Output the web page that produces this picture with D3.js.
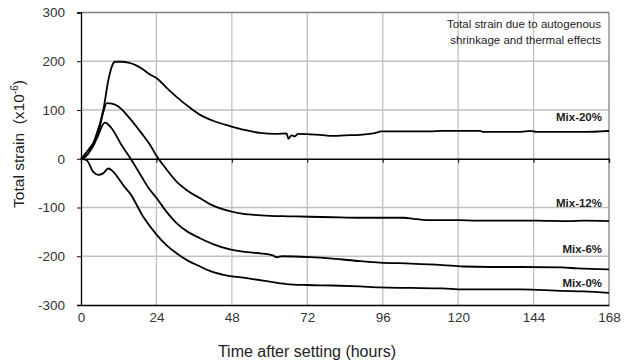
<!DOCTYPE html>
<html><head><meta charset="utf-8">
<script src="https://cdn.jsdelivr.net/npm/d3@7"></script>
<style>body{margin:0;background:#fff}svg{display:block}text{font-family:"Liberation Sans",Arial,sans-serif;white-space:pre}</style>
</head><body><svg id="c" width="625" height="363"></svg>
<script>
const xTicks = [0,24,48,72,96,120,144,168];
const yTicks = [-300,-200,-100,0,100,200,300];
const seriesNames = ["Mix-20%","Mix-12%","Mix-6%","Mix-0%"];
const mix20 = [[0,0],[2,8],[4.5,42],[7.1,100],[8.7,161],[9.8,189],[10.8,199],[13,199],[15.1,197],[17,193],[19.3,185],[22,173],[24.1,165],[27,147],[30.4,127],[34,108],[37.9,90],[42,78],[47.4,67],[52,59],[57,53],[62,51],[65.4,52],[66,41],[67,48],[68,46],[69,51],[72.9,50],[76,49],[80.3,47],[84,48],[88.8,49],[93,52],[95.7,56],[104,56],[111,56],[115,57],[127,57],[128,55],[140,55],[143,57],[145,55],[150,55],[160,55],[165,56],[168,57]];
const mix12 = [[0,0],[2.3,11],[5.5,52],[7.1,96],[8.2,114],[9.8,113],[11.9,107],[15.1,86],[19.3,52],[22,28],[24.1,5],[27,-20],[30.4,-47],[34,-66],[37.9,-81],[41,-93],[45.3,-104],[50.6,-112],[55,-115],[60.1,-117],[66,-118],[72.9,-119],[80,-120],[88.8,-121],[95,-121],[102.6,-121],[107,-124],[111,-126],[120,-126],[125.9,-127],[135,-127],[145,-127],[155,-128],[160,-127],[168,-128]];
const mix6 = [[0,0],[2.3,18],[5,42],[7.6,74],[9.8,62],[12.9,28],[16.1,-3],[19.3,-37],[21.5,-60],[24.1,-81],[27,-107],[30.4,-132],[34,-150],[37.9,-163],[42,-175],[47.4,-186],[52,-191],[57,-194],[61,-198],[62.3,-202],[64,-200],[72.9,-202],[80,-205],[88.8,-210],[95,-213],[105,-215],[115,-218],[121.6,-221],[130,-222],[140,-222],[153,-223],[158,-225],[168,-227]];
const mix0 = [[0,0],[1.8,-3],[3.9,-27],[5.5,-33],[7,-30],[8.7,-20],[10,-25],[11.9,-40],[13.5,-55],[15.6,-71],[19.8,-119],[24.1,-156],[27,-176],[30.4,-194],[34,-209],[37.9,-221],[41,-230],[45.3,-238],[52.7,-245],[58,-250],[65.4,-257],[72,-259],[80,-260],[88.8,-262],[95,-264],[105,-265],[115,-266],[121.6,-268],[130,-268],[140,-268],[153,-271],[160,-272],[168,-275]];
const seriesData = [mix20, mix12, mix6, mix0];
const labelY = [78, -98, -193, -264];
const noteLines = ["Total strain due to autogenous","shrinkage and thermal effects"];

const svg = d3.select("#c");
const L=81, R=609, T=12.5, B=305;
const x = d3.scaleLinear().domain([0,168]).range([L,R]);
const y = d3.scaleLinear().domain([-300,300]).range([B,T]);
const fmt = d => String(d);

// grid
const g = svg.append("g");
g.selectAll(".vg").data(xTicks.filter(d=>d>0&&d<168)).join("line")
 .attr("x1",d=>x(d)).attr("x2",d=>x(d)).attr("y1",T).attr("y2",B)
 .attr("stroke","#c0c0c0").attr("stroke-width",1.3);
g.selectAll(".hg").data(yTicks.filter(d=>d!==0&&d!==-300&&d!==300)).join("line")
 .attr("x1",L).attr("x2",R).attr("y1",d=>y(d)).attr("y2",d=>y(d))
 .attr("stroke","#c0c0c0").attr("stroke-width",1.3);
// top & right border
svg.append("line").attr("x1",L).attr("x2",R).attr("y1",y(300)).attr("y2",y(300)).attr("stroke","#808080").attr("stroke-width",1.3);
svg.append("line").attr("x1",R).attr("x2",R).attr("y1",T).attr("y2",B).attr("stroke","#808080").attr("stroke-width",1.3);

// y axis
const ya = svg.append("g").attr("transform",`translate(${L},0)`)
 .call(d3.axisLeft(y).tickValues(yTicks).tickFormat(fmt).tickSize(4).tickPadding(12));
ya.select(".domain").attr("stroke","#000").attr("stroke-width",1.3);
ya.selectAll("text").attr("font-size",13.5).attr("fill","#333");
// bottom axis line & labels
const xb = svg.append("g").attr("transform",`translate(0,${B})`)
 .call(d3.axisBottom(x).tickValues(xTicks).tickFormat(fmt).tickSize(0).tickPadding(7));
xb.select(".domain").attr("stroke","#000").attr("stroke-width",1.3);
xb.selectAll("text").attr("font-size",13.5).attr("fill","#333");
// zero axis with ticks
const x0 = svg.append("g").attr("transform",`translate(0,${y(0)})`)
 .call(d3.axisBottom(x).tickValues(xTicks).tickSize(4).tickFormat(""));
x0.select(".domain").attr("stroke","#000").attr("stroke-width",1.3);
x0.selectAll("line").attr("stroke","#000");

// lines
const line = d3.line().x(d=>x(d[0])).y(d=>y(d[1])).curve(d3.curveMonotoneX);
svg.selectAll(".s").data(seriesData).join("path")
 .attr("d",line).attr("fill","none").attr("stroke","#000").attr("stroke-width",1.8);

// labels
svg.selectAll(".lab").data(seriesNames).join("text")
 .attr("x",602).attr("y",(d,i)=>y(labelY[i])).attr("text-anchor","end")
 .attr("font-size",11.5).attr("font-weight","bold").attr("fill","#222").text(d=>d);
svg.selectAll(".note").data(noteLines).join("text")
 .attr("x",601).attr("y",(d,i)=>28+i*16).attr("text-anchor","end")
 .attr("font-size",11.5).attr("fill","#222").text(d=>d);

// titles
svg.append("text").attr("x",307).attr("y",357).attr("text-anchor","middle")
 .attr("font-size",16).attr("fill","#222").text("Time after setting (hours)");
const yt = svg.append("text").attr("transform","translate(24,144) rotate(-90)")
 .attr("text-anchor","middle").attr("font-size",15.5).attr("fill","#222");
yt.append("tspan").text("Total strain  (x10");
yt.append("tspan").attr("font-size",10).attr("dy",-6).text("-6");
yt.append("tspan").attr("dy",6).text(")");
</script></body></html>
